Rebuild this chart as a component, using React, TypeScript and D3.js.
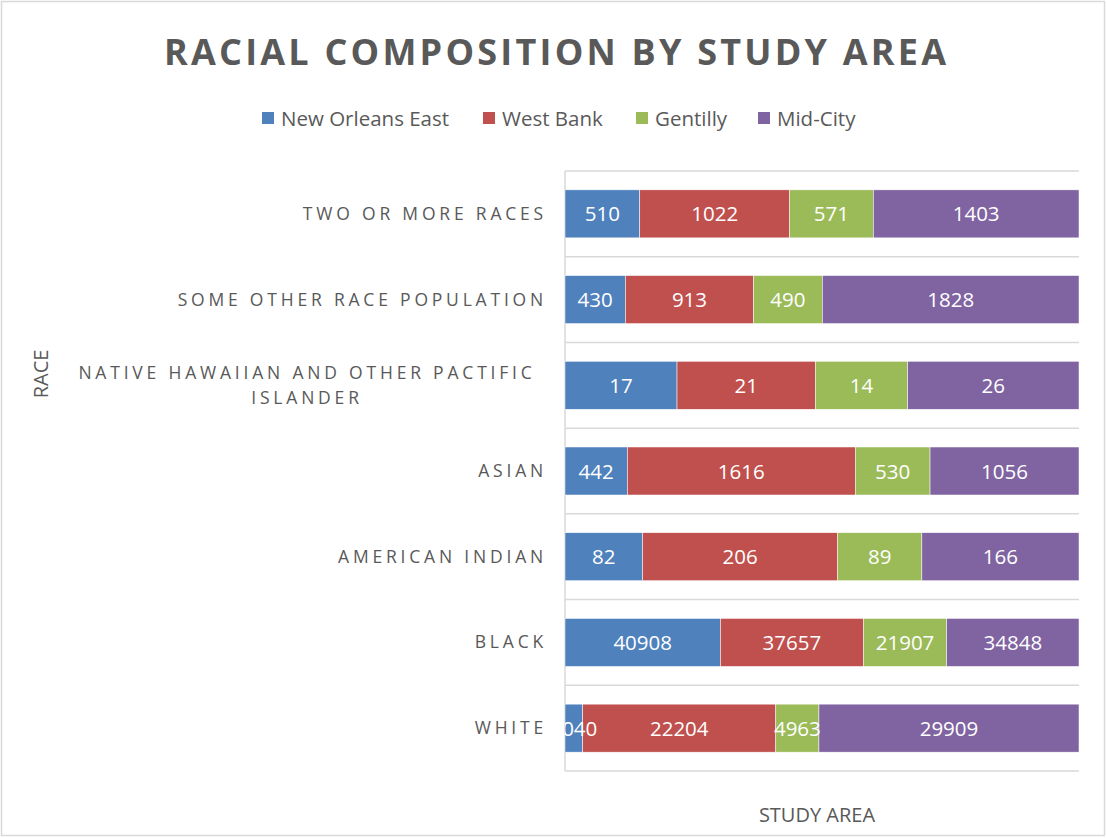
import React from "react";
import * as d3 from "d3";

const categories = [
  "WHITE",
  "BLACK",
  "AMERICAN INDIAN",
  "ASIAN",
  "NATIVE HAWAIIAN AND OTHER PACTIFIC ISLANDER",
  "SOME OTHER RACE POPULATION",
  "TWO OR MORE RACES",
];
const categoryLines: string[][] = [
  ["WHITE"],
  ["BLACK"],
  ["AMERICAN INDIAN"],
  ["ASIAN"],
  ["NATIVE HAWAIIAN AND OTHER PACTIFIC", "ISLANDER"],
  ["SOME OTHER RACE POPULATION"],
  ["TWO OR MORE RACES"],
];
const seriesNames = ["New Orleans East", "West Bank", "Gentilly", "Mid-City"];
const newOrleansEast = [2040, 40908, 82, 442, 17, 430, 510];
const westBank = [22204, 37657, 206, 1616, 21, 913, 1022];
const gentilly = [4963, 21907, 89, 530, 14, 490, 571];
const midCity = [29909, 34848, 166, 1056, 26, 1828, 1403];
const seriesValues = [newOrleansEast, westBank, gentilly, midCity];
const colors = ["#4F81BD", "#C0504D", "#9BBB59", "#8064A2"];

const W = 1107;
const H = 838;
const FONT = "'Open Sans', 'Noto Sans', sans-serif";
const TEXT = "#595959";

export default function App() {
  const plot = { left: 565, right: 1079, top: 171, bottom: 771 };
  const x = d3.scaleLinear().domain([0, 1]).range([plot.left, plot.right]);
  const y = d3
    .scaleBand<string>()
    .domain(categories)
    .range([plot.bottom, plot.top])
    .paddingInner(0.44)
    .paddingOuter(0.22);

  const rows = categories.map((c, i) => {
    const o: any = { cat: c };
    seriesNames.forEach((s, j) => (o[s] = seriesValues[j][i]));
    return o;
  });
  const stack = d3.stack<any>().keys(seriesNames).offset(d3.stackOffsetExpand);
  const stacked = stack(rows);

  const step = y.step();
  const gridYs = d3.range(categories.length + 1).map((k) => plot.bottom - k * step);

  const legendX = [262, 483, 636, 758];

  return (
    <div style={{ position: "absolute", left: 0, top: 0 }}>
      <svg width={W} height={H} style={{ display: "block", background: "#fff" }}>
        <defs>
          <clipPath id="plotClip">
            <rect x={plot.left} y={plot.top} width={plot.right - plot.left} height={plot.bottom - plot.top} />
          </clipPath>
        </defs>
        <rect x={1.5} y={1.5} width={W - 4} height={H - 4} fill="#fff" stroke="#D9D9D9" strokeWidth={1.5} />
        <text
          x={555}
          y={65}
          textAnchor="middle"
          fontFamily={FONT}
          fontWeight={700}
          fontSize={36}
          fill={TEXT}
          textLength={782}
          lengthAdjust="spacing"
        >
          RACIAL COMPOSITION BY STUDY AREA
        </text>
        {seriesNames.map((s, i) => (
          <g key={s} transform={`translate(${legendX[i]},0)`}>
            <rect x={0} y={112} width={12} height={12} fill={colors[i]} />
            <text x={19} y={126} fontFamily={FONT} fontSize={20.5} fill={TEXT}>
              {s}
            </text>
          </g>
        ))}
        {gridYs.map((gy, k) => (
          <line key={k} x1={plot.left} x2={plot.right} y1={gy} y2={gy} stroke="#D9D9D9" strokeWidth={1.5} />
        ))}
        <line x1={plot.left} x2={plot.left} y1={plot.top} y2={plot.bottom} stroke="#D9D9D9" strokeWidth={1.5} />
        {stacked.map((layer, si) => (
          <g key={layer.key} fill={colors[si]}>
            {layer.map((d, ci) => (
              <rect
                key={ci}
                x={x(d[0])}
                y={y(categories[ci])}
                width={x(d[1]) - x(d[0])}
                height={y.bandwidth()}
                stroke="#fff"
                strokeWidth={0.5}
              />
            ))}
          </g>
        ))}
        <g clipPath="url(#plotClip)">
          {stacked.map((layer, si) =>
            layer.map((d, ci) => (
              <text
                key={`${si}-${ci}`}
                x={(x(d[0]) + x(d[1])) / 2}
                y={(y(categories[ci]) as number) + y.bandwidth() / 2 + 7.5}
                textAnchor="middle"
                fontFamily={FONT}
                fontSize={20.5}
                fill="#fff"
              >
                {seriesValues[si][ci]}
              </text>
            ))
          )}
        </g>
        {categories.map((c, ci) => {
          const lines = categoryLines[ci];
          const cy = (y(c) as number) + y.bandwidth() / 2;
          if (lines.length === 1) {
            return (
              <text
                key={c}
                x={547}
                y={cy + 6}
                textAnchor="end"
                fontFamily={FONT}
                fontSize={17.5}
                letterSpacing={3.8}
                fill={TEXT}
              >
                {lines[0]}
              </text>
            );
          }
          return (
            <g key={c}>
              {lines.map((l, li) => (
                <text
                  key={li}
                  x={307}
                  y={cy - 6 + li * 25}
                  textAnchor="middle"
                  fontFamily={FONT}
                  fontSize={17.5}
                  letterSpacing={3.8}
                  fill={TEXT}
                >
                  {l}
                </text>
              ))}
            </g>
          );
        })}
        <text
          transform={`translate(48,374) rotate(-90)`}
          textAnchor="middle"
          fontFamily={FONT}
          fontSize={20}
          fill={TEXT}
        >
          RACE
        </text>
        <text x={817} y={822} textAnchor="middle" fontFamily={FONT} fontSize={20} fill={TEXT}>
          STUDY AREA
        </text>
      </svg>
    </div>
  );
}
